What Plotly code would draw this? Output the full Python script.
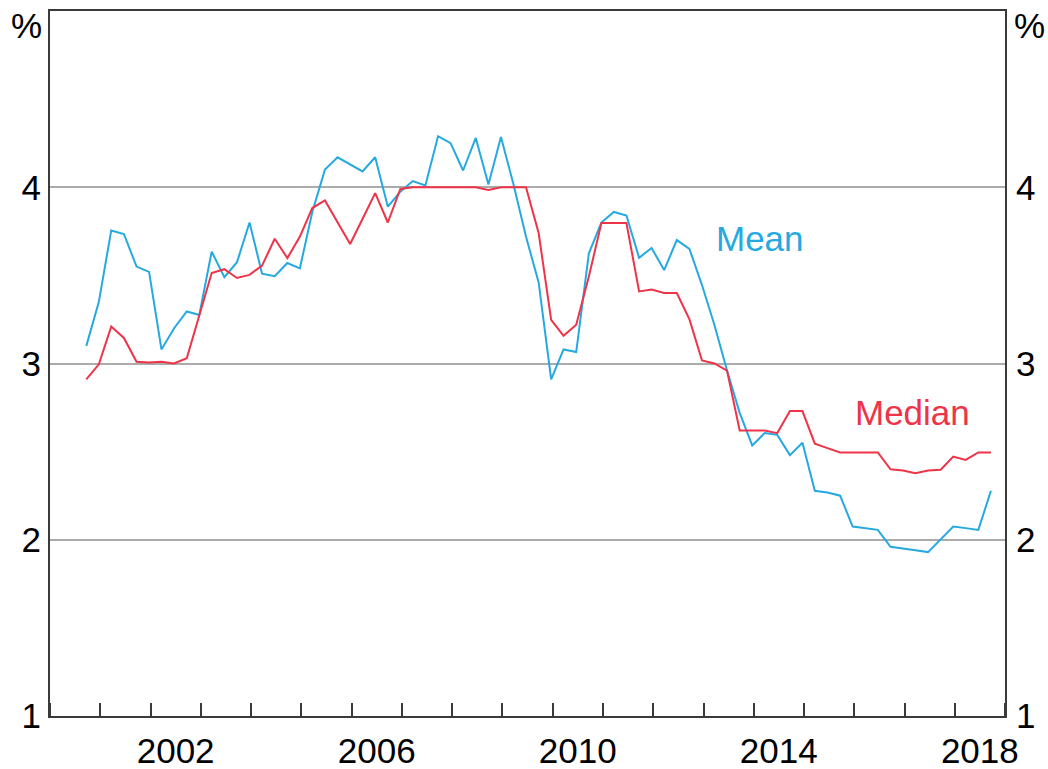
import pandas as pd
import plotly.graph_objects as go

# Quarterly observations, Sep 2000 - Sep 2018
mean_vals = [
    3.10, 3.35, 3.755, 3.735, 3.55, 3.52, 3.08, 3.20, 3.295, 3.275,
    3.635, 3.49, 3.575, 3.80, 3.51, 3.495, 3.57, 3.54, 3.86, 4.10,
    4.17, 4.13, 4.09, 4.17, 3.89, 3.975, 4.035, 4.01, 4.29, 4.25,
    4.095, 4.28, 4.015, 4.285, 4.02, 3.72, 3.46, 2.91, 3.08, 3.065,
    3.625, 3.80, 3.86, 3.84, 3.60, 3.655, 3.53, 3.70, 3.65, 3.445,
    3.22, 2.96, 2.72, 2.535, 2.605, 2.595, 2.48, 2.55, 2.278, 2.268,
    2.25, 2.075, 2.066, 2.056, 1.96, 1.948, 1.94, 1.93, 2.003, 2.075,
    2.066, 2.056, 2.278,
]
median_vals = [
    2.91, 2.995, 3.21, 3.145, 3.01, 3.005, 3.01, 3.00, 3.03, 3.28,
    3.513, 3.535, 3.485, 3.503, 3.555, 3.708, 3.598, 3.72, 3.882, 3.925,
    3.80, 3.678, 3.82, 3.967, 3.80, 3.99, 4.00, 4.00, 4.00, 4.00,
    4.00, 4.00, 3.985, 4.00, 4.00, 4.00, 3.74, 3.248, 3.157, 3.22,
    3.494, 3.797, 3.797, 3.797, 3.409, 3.42, 3.40, 3.40, 3.25, 3.017,
    3.00, 2.96, 2.62, 2.62, 2.62, 2.605, 2.73, 2.73, 2.545, 2.52,
    2.495, 2.495, 2.495, 2.495, 2.40, 2.393, 2.378, 2.393, 2.397, 2.472,
    2.453, 2.495, 2.495,
]
dates = pd.date_range("2000-09-01", periods=len(mean_vals), freq="3MS") + pd.Timedelta(days=20)

label_years = ["2002", "2006", "2010", "2014", "2018"]
y_ticks = [1, 2, 3, 4]

BLUE = "#26A9E0"
RED = "#EE3448"
FONT = "Liberation Sans, Arial, sans-serif"
FS = 35

fig = go.Figure()
fig.add_trace(go.Scatter(x=dates, y=mean_vals, mode="lines", name="Mean",
                         line=dict(color=BLUE, width=2), showlegend=False))
fig.add_trace(go.Scatter(x=dates, y=median_vals, mode="lines", name="Median",
                         line=dict(color=RED, width=2), showlegend=False))
# invisible trace to activate the right-hand axis
fig.add_trace(go.Scatter(x=[dates[0]], y=[None], yaxis="y2", showlegend=False, hoverinfo="skip"))

fig.update_layout(
    width=1048, height=769,
    margin=dict(l=50, r=43, t=11, b=53),
    paper_bgcolor="white", plot_bgcolor="white",
    font=dict(family=FONT, size=FS, color="black"),
    xaxis=dict(
        type="date", automargin=False,
        range=["2000-01-01", "2019-01-01"],
        tickmode="array",
        tickvals=[f"{y}-07-02" for y in label_years],
        ticktext=label_years,
        ticks="", ticklabelstandoff=3,
        showgrid=False, zeroline=False,
        showline=True, linecolor="#3a3a3a", linewidth=2, mirror=True,
        minor=dict(ticks="inside", ticklen=13, tickwidth=1.5, tickcolor="#3a3a3a",
                   dtick="M12", tick0="2000-01-01", showgrid=False),
    ),
    yaxis=dict(
        range=[1, 5], tickmode="array", tickvals=y_ticks, automargin=False,
        ticktext=[str(v) for v in y_ticks],
        ticks="", ticklabelstandoff=0,
        showgrid=True, gridcolor="#ABABAB", gridwidth=1.5, zeroline=False,
        showline=True, linecolor="#3a3a3a", linewidth=2, mirror=True,
    ),
    yaxis2=dict(
        range=[1, 5], overlaying="y", side="right", tickmode="array", automargin=False,
        tickvals=y_ticks, ticktext=[str(v) for v in y_ticks],
        ticks="", ticklabelstandoff=10, showgrid=False, zeroline=False,
        showline=False,
    ),
)

fig.add_annotation(x=-0.0246, y=0.98, xref="paper", yref="paper", text="%",
                   showarrow=False, xanchor="center", yanchor="middle",
                   font=dict(size=FS, family=FONT, color="black"))
fig.add_annotation(x=1.0256, y=0.98, xref="paper", yref="paper", text="%",
                   showarrow=False, xanchor="center", yanchor="middle",
                   font=dict(size=FS, family=FONT, color="black"))
fig.add_annotation(x="2014-02-16", y=3.71, text="Mean", showarrow=False,
                   xanchor="center", yanchor="middle",
                   font=dict(size=FS, family=FONT, color=BLUE))
fig.add_annotation(x="2017-03-01", y=2.72, text="Median", showarrow=False,
                   xanchor="center", yanchor="middle",
                   font=dict(size=FS, family=FONT, color=RED))

fig.write_html("out.html", post_script="document.body.style.margin='0';",
               config={"displayModeBar": False})
